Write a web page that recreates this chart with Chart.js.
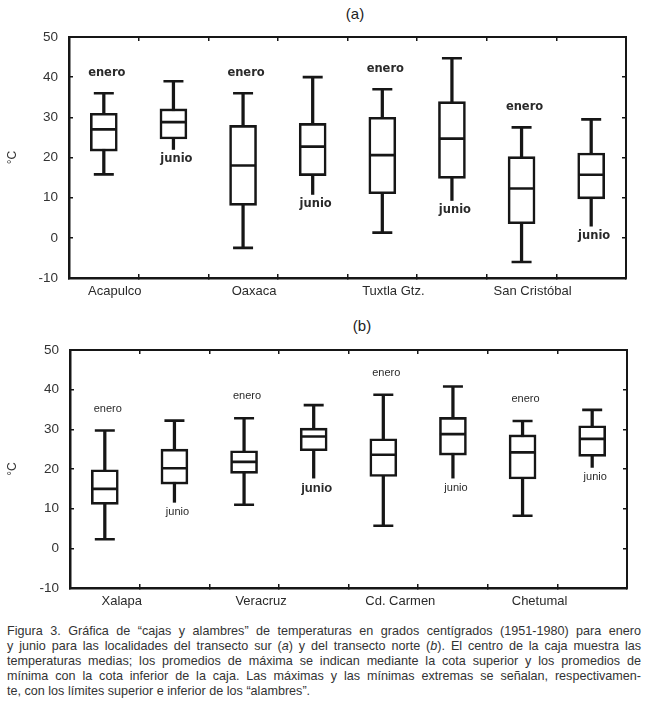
<!DOCTYPE html>
<html><head><meta charset="utf-8">
<script src="https://cdn.jsdelivr.net/npm/chart.js@4/dist/chart.umd.min.js"></script>
<style>
html,body{margin:0;padding:0;background:#fff;}
#wrap{position:relative;width:655px;height:710px;overflow:hidden;font-family:Arial,"Liberation Sans",sans-serif;background:#fff;}
.ttl{position:absolute;font-size:15px;color:#222;transform:translate(-50%,-50%);white-space:nowrap;}
.cv{position:absolute;left:0;width:655px;height:310px;}
#cap{position:absolute;left:7px;top:624px;width:634px;font-size:12.6px;line-height:15px;color:#333;}
#cap div{text-align:justify;text-align-last:justify;white-space:nowrap;}
#cap div.last{text-align-last:left;}
</style></head><body>
<div id="wrap">
  <div class="ttl" style="left:355px;top:13px">(a)</div>
  <div class="ttl" style="left:362px;top:325px">(b)</div>
  <div class="cv" style="top:0"><canvas id="ca" width="655" height="310"></canvas></div>
  <div class="cv" style="top:310px"><canvas id="cb" width="655" height="310"></canvas></div>
  <div id="cap">
    <div>Figura 3. Gráfica de “cajas y alambres” de temperaturas en grados centígrados (1951-1980) para enero</div>
    <div>y junio para las localidades del transecto sur (<i>a</i>) y del transecto norte (<i>b</i>). El centro de la caja muestra las</div>
    <div>temperaturas medias; los promedios de máxima se indican mediante la cota superior y los promedios de</div>
    <div>mínima con la cota inferior de la caja. Las máximas y las mínimas extremas se señalan, respectivamen-</div>
    <div class="last">te, con los límites superior e inferior de los “alambres”.</div>
  </div>
</div>
<script>
// ---- data: panel (a), transecto sur ----
const locationsA = ['Acapulco', 'Oaxaca', 'Tuxtla Gtz.', 'San Cristóbal'];
const months = ['enero', 'junio'];
const maxA = [36, 39, 36, 40, 37, 44.7, 27.5, 29.5];
const q3A  = [31, 32.1, 28, 28.5, 30, 33.9, 20.2, 21.1];
const medA = [27, 28.8, 18, 22.7, 20.6, 24.7, 12.3, 15.7];
const q1A  = [21.6, 24.6, 8.1, 15.5, 11, 14.8, 3.5, 9.7];
const minA = [15.8, 22, -2.5, 10.8, 1.3, 9.3, -6, 2.9];

// ---- data: panel (b), transecto norte ----
const locationsB = ['Xalapa', 'Veracruz', 'Cd. Carmen', 'Chetumal'];
const maxB = [29.7, 32.2, 32.8, 36.1, 38.7, 40.8, 32.1, 34.9];
const q3B  = [19.8, 25, 24.6, 30.3, 27.6, 33, 28.6, 30.9];
const medB = [15, 20.2, 21.8, 28.2, 23.6, 28.8, 24.2, 27.6];
const q1B  = [11.1, 16.2, 18.9, 24.6, 18.1, 23.5, 17.5, 23.2];
const minB = [2.3, 11.6, 11, 17.7, 5.7, 17.7, 8.2, 20.4];

// y-axis tick range
const yMin = -10, yMax = 50, yStep = 10;

const INK = '#161616';
const TXT = '#2a2a2a';

const monthLabels = {
  id: 'monthLabels',
  afterDatasetsDraw(chart, args, o) {
    const {ctx} = chart, x = chart.scales.x, y = chart.scales.y;
    ctx.save();
    ctx.fillStyle = TXT;
    ctx.textAlign = 'center';
    ctx.textBaseline = 'middle';
    o.slots.forEach((m, i) => {
      const px = x.getPixelForValue(i) + o.dx;
      const py = m === 'enero' ? y.getPixelForValue(o.max[i]) - o.above
                               : y.getPixelForValue(o.min[i]) + o.below;
      ctx.font = (o.fonts && o.fonts[i]) || o.font;
      ctx.fillText(m, px, py);
    });
    ctx.restore();
  }
};

function makeChart(id, locations, mx, q3, md, q1, mn, L) {
  const slots = [];
  const slotMonths = [];
  locations.forEach(l => months.forEach(m => { slots.push(l + ' ' + m); slotMonths.push(m); }));
  const lowCaps = mn.map((v, i) => slotMonths[i] === 'enero' ? v : null);
  const whisk = mx.map((v, i) => [mn[i], v]);
  const boxes = q3.map((v, i) => [q1[i], v]);
  const tickFont = {family: 'Arial, "Liberation Sans", sans-serif', size: 13};
  return new Chart(document.getElementById(id), {
    type: 'bar',
    data: {
      labels: slots,
      datasets: [
        {label: 'alambre', data: whisk, backgroundColor: INK, borderWidth: 0, barThickness: 2.6, grouped: false, order: 3},
        {label: 'caja', data: boxes, backgroundColor: '#fff', borderColor: INK, borderWidth: 2.6, borderSkipped: false, barThickness: 27, grouped: false, order: 2},
        {type: 'line', label: 'media', data: md, showLine: false, pointStyle: 'line', pointRadius: 13, pointHoverRadius: 13, pointBorderWidth: 2.6, pointBorderColor: INK, order: 1},
        {type: 'line', label: 'máxima extrema', data: mx, showLine: false, pointStyle: 'line', pointRadius: 10, pointHoverRadius: 10, pointBorderWidth: 2.6, pointBorderColor: INK, order: 1},
        {type: 'line', label: 'mínima extrema', data: lowCaps, showLine: false, pointStyle: 'line', pointRadius: 10, pointHoverRadius: 10, pointBorderWidth: 2.6, pointBorderColor: INK, order: 1}
      ]
    },
    options: {
      responsive: false, animation: false, devicePixelRatio: 1,
      layout: {padding: {left: 0, right: L.right, top: L.top, bottom: 0}},
      plugins: {
        legend: {display: false}, tooltip: {enabled: false}, title: {display: false},
        monthLabels: {slots: slotMonths, max: mx, min: mn, dx: 3, above: L.above, below: 10, font: L.mfont, fonts: L.mfonts}
      },
      scales: {
        x: {
          type: 'category', position: 'bottom', offset: true,
          grid: {offset: true, drawOnChartArea: false, drawTicks: true, tickLength: -4, color: INK, lineWidth: 1.5},
          border: {display: true, color: INK, width: 2.5},
          ticks: {autoSkip: false, maxRotation: 0, minRotation: 0, padding: L.xpad, labelOffset: L.lo, color: TXT, font: tickFont,
                  callback: (v, i) => slotMonths[i] === 'enero' ? locations[i / 2] : ''},
          afterFit: s => { s.height = 32; }
        },
        x2: {
          type: 'category', position: 'top', offset: true,
          grid: {offset: true, drawOnChartArea: false, drawTicks: true, tickLength: -4, color: INK, lineWidth: 1.5},
          border: {display: true, color: INK, width: 2},
          ticks: {display: false},
          afterFit: s => { s.height = 0; }
        },
        y: {
          type: 'linear', position: 'left', min: yMin, max: yMax,
          grid: {drawOnChartArea: false, drawTicks: true, tickLength: -4, color: INK, lineWidth: 1.5},
          border: {display: true, color: INK, width: 2.5},
          ticks: {stepSize: yStep, padding: 15, color: '#333', font: {family: 'Arial, "Liberation Sans", sans-serif', size: 13.5}},
          title: {display: true, text: '°C', color: '#333', font: {family: 'Arial, "Liberation Sans", sans-serif', size: 12}, padding: {top: 5, bottom: 0}},
          afterFit: s => { s.width = L.left; }
        },
        y2: {
          type: 'linear', position: 'right', min: yMin, max: yMax,
          grid: {drawOnChartArea: false, drawTicks: true, tickLength: -4, color: INK, lineWidth: 1.5},
          border: {display: true, color: INK, width: 2},
          ticks: {display: false, stepSize: yStep},
          afterFit: s => { s.width = 0; }
        }
      }
    },
    plugins: [monthLabels]
  });
}

makeChart('ca', locationsA, maxA, q3A, medA, q1A, minA,
  {left: 69, right: 29, top: 37, xpad: 10, lo: 11, above: 20,
   mfont: 'bold 11.5px "DejaVu Sans", sans-serif'});
makeChart('cb', locationsB, maxB, q3B, medB, q1B, minB,
  {left: 70, right: 28, top: 40, xpad: 10, lo: 17, above: 22,
   mfont: '11px Arial, "Liberation Sans", sans-serif',
   mfonts: [null, null, null, 'bold 13px Arial, "Liberation Sans", sans-serif', null, null, null, null]});
</script>
</body></html>
